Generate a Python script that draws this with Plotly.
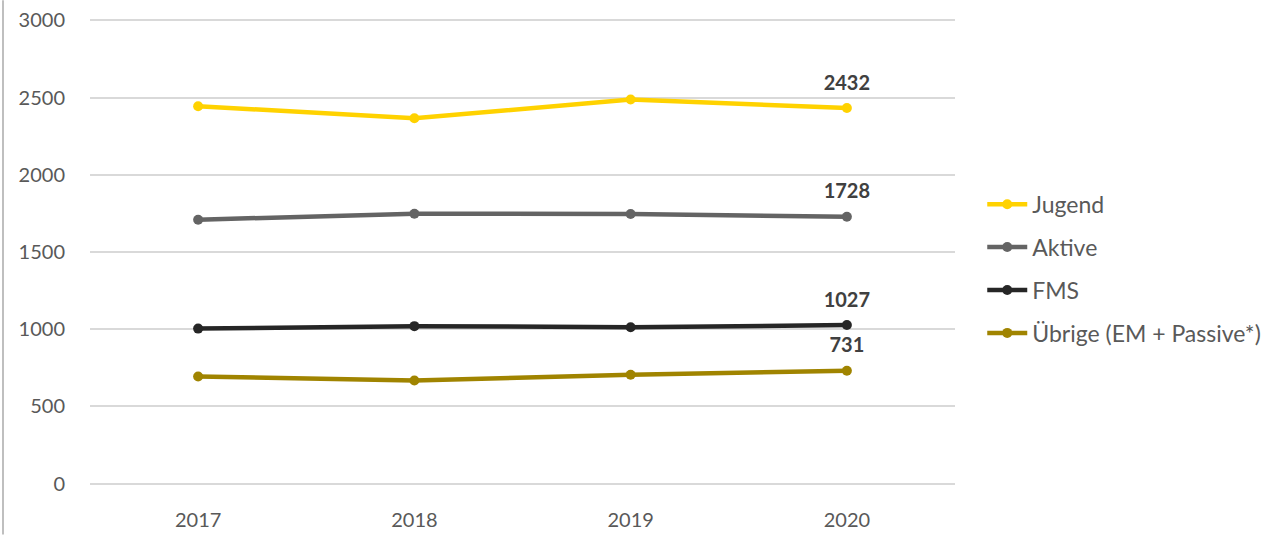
import plotly.graph_objects as go

years = ["2017", "2018", "2019", "2020"]
series_names = ["Jugend", "Aktive", "FMS", "Übrige (EM + Passive*)"]
jugend = [2444, 2366, 2487, 2432]
aktive = [1709, 1748, 1746, 1728]
fms = [1004, 1020, 1013, 1027]
uebrige = [694, 668, 705, 731]
y_ticks = [0, 500, 1000, 1500, 2000, 2500, 3000]

colors = ["#FFD200", "#646464", "#262626", "#A08400"]
values = [jugend, aktive, fms, uebrige]

FONT = "Lato, 'Open Sans', sans-serif"

# pixel geometry: 0 at y=484, 3000 at y=20
PX = 464 / 3000
PAD = 15
top = 20 - PAD * PX
bottom = 484 + PAD * PX
plot_h = bottom - top

fig = go.Figure()
for i, (name, vals, col) in enumerate(zip(series_names, values, colors)):
    fig.add_trace(go.Scatter(
        x=years, y=vals, name=name, mode="lines+markers",
        line=dict(color=col, width=4.5),
        marker=dict(color=col, size=10),
        legendgroup=f"g{i}",
        cliponaxis=False,
    ))

# data labels on the last point of each series
for vals in values:
    fig.add_trace(go.Scatter(
        x=[years[-1]], y=[vals[-1]], mode="markers+text",
        text=[str(vals[-1])], textposition="top center",
        marker=dict(size=20, color="rgba(0,0,0,0)"),
        textfont=dict(family=FONT, size=20, color="#404040", weight="bold"),
        showlegend=False, hoverinfo="skip", cliponaxis=False,
    ))

fig.update_layout(
    width=1279, height=535,
    margin=dict(l=90, r=324, t=top, b=535 - bottom),
    paper_bgcolor="white", plot_bgcolor="white",
    font=dict(family=FONT, color="#595959", size=20),
    xaxis=dict(type="category", range=[-0.5, 3.5], showgrid=False,
               showline=False, zeroline=False, ticks="", automargin=False,
               ticklabelstandoff=20,
               tickfont=dict(size=20, color="#595959")),
    yaxis=dict(range=[-PAD, 3000 + PAD], tickvals=y_ticks, showgrid=True,
               gridcolor="#D9D9D9", gridwidth=1.5, zeroline=False,
               showline=False, ticks="", ticklabelstandoff=24, automargin=False,
               tickfont=dict(size=20, color="#595959")),
    legend=dict(x=1.0315, y=0.648, xanchor="left", yanchor="top",
                font=dict(size=23, color="#595959"), itemwidth=40,
                tracegroupgap=10, bgcolor="rgba(0,0,0,0)"),
    showlegend=True,
)

# left border of chart area
fig.add_shape(type="line", xref="paper", yref="paper",
              x0=(3 - 90) / 865, x1=(3 - 90) / 865,
              y0=-(535 - bottom) / plot_h, y1=bottom / plot_h,
              line=dict(color="#BFBFBF", width=2))

fig.write_html("out.html", config={"displayModeBar": False},
               post_script="document.body.style.margin='0';document.body.style.overflow='hidden';")
